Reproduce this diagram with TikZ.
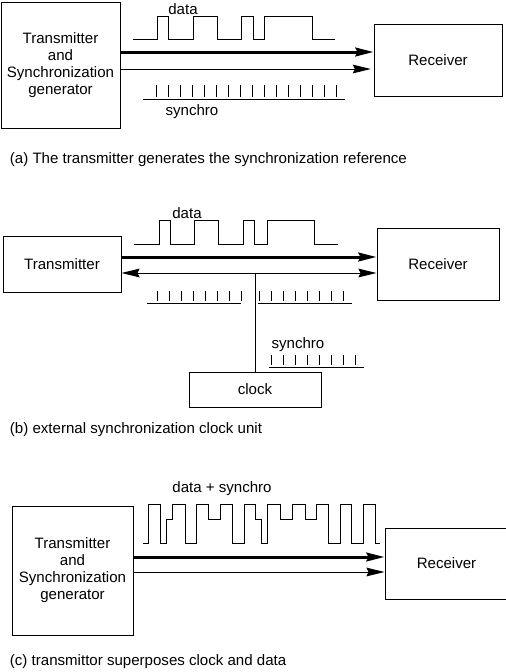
\documentclass[tikz,border=0pt]{standalone}
\usepackage{fontspec}
\setmainfont{Liberation Sans}
\usetikzlibrary{arrows.meta}
\newcommand{\txtsize}{\fontsize{11.3pt}{12.75pt}\selectfont}
% baseline from #1 to #2 at height #3, #5 ticks from x=#4, tick length #6
\newcommand{\ticktrain}[6]{%
  \draw (#1,#3) -- (#2,#3);
  \foreach \k in {1,...,#5}
    \draw ({#4+12*(\k-1)},#3-2.5) -- ++(0,-#6);
}

\begin{document}
\begin{tikzpicture}[x=0.75pt, y=-0.75pt, line width=0.75pt,
      >={Stealth[length=13.5pt, width=6.5pt, inset=1.5pt]},
      font=\txtsize,
      box/.style={draw, inner sep=0pt, align=center},
      heavy/.style={->, line width=2.25pt},
      light/.style={->}]
    \useasboundingbox (0,0) rectangle (506,672);
    \clip (0,0) rectangle (506,672);

    % (a)
    \node[box, minimum width=89.25pt, minimum height=94.5pt] (txa) at (60.5,65)
      {Transmitter\\and\\Synchronization\\generator};
    \node[box, minimum width=96pt, minimum height=54pt] (rxa) at (438,60) {Receiver};
    \draw[heavy] (txa.east |- 0,52) -- (rxa.west |- 0,52);
    \draw[light] (txa.east |- 0,69) -- ([xshift=-2]rxa.west |- 0,69);
    \draw (133,39) -| (157,16) -| (168,39) -| (193,16) -| (217,39)
      -| (241,16) -| (253,39) -| (264,16) -| (312,39) -- (335,39);
    \node (dataa) at (183,9) {data};
    \ticktrain{143}{345}{99}{156}{16}{11.5}
    \node (synca) at (192,112) {synchro};
    \node[anchor=base west] (capa) at (5,163)
      {(a) The transmitter generates the synchronization reference};

    % (b)
    \node[box, minimum width=88.5pt, minimum height=42pt] (txb) at (62,264) {Transmitter};
    \node[box, minimum width=91.5pt, minimum height=54pt] (rxb) at (438,264) {Receiver};
    \node[box, minimum width=99pt, minimum height=26.25pt] (clk) at (255,389.5) {clock};
    \coordinate (tap) at (clk.north |- 0,273);
    \draw[heavy] (txb.east |- 0,257) -- (rxb.west |- 0,257);
    \draw[light, <->] (txb.east |- tap) -- (rxb.west |- tap);
    \draw (clk.north) -- (tap);
    \draw (134,244) -| (159,220) -| (170,244) -| (194,220) -| (218,244)
      -| (243,220) -| (254,244) -| (267,220) -| (314,244) -- (338,244);
    \node (datab) at (187,213) {data};
    \ticktrain{147}{241}{303}{157.3}{8}{9.5}
    \ticktrain{258}{352}{303}{259}{8}{9.5}
    \ticktrain{269}{364}{367}{271.7}{8}{9.5}
    \node (syncb) at (298,345) {synchro};
    \node[anchor=base west] (capb) at (5,433)
      {(b) external synchronization clock unit};

    % (c)
    \node[box, minimum width=90.75pt, minimum height=96.75pt] (txc) at (72.5,570.5)
      {Transmitter\\and\\Synchronization\\generator};
    \node[box, minimum width=92.25pt, minimum height=53.25pt] (rxc) at (446.5,563.5) {Receiver};
    \draw[heavy] (txc.east |- 0,557) -- (rxc.west |- 0,557);
    \draw[light] (txc.east |- 0,572) -- (rxc.west |- 0,572);
    \draw (143,543) -| (148,504) -| (160,543) -| (166.7,519) -| (172.3,504)
      -| (185,543) -| (196.7,504) -| (208.3,519) -| (220,504) -| (232.3,543)
      -| (244.3,504) -| (255,519) -| (261.7,543) -| (267.7,504) -| (280,519)
      -| (292.3,504) -| (305,519) -| (316.7,504) -| (328.3,543) -| (340,504)
      -| (351.7,543) -| (363.3,504) -| (375,543) -- (380,543);
    \node (datac) at (222,489) {data + synchro};
    \node[anchor=base west] (capc) at (5,665)
      {(c) transmittor superposes clock and data};
\end{tikzpicture}
\end{document}
